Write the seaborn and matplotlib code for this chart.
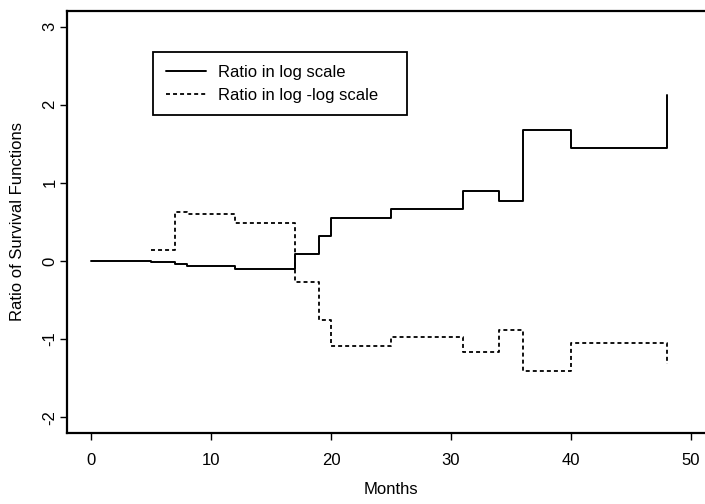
import seaborn as sns
import matplotlib
matplotlib.use('Agg')
import matplotlib.pyplot as plt
import pandas as pd

# Step points (month, ratio)
log_months = [0, 5, 7, 8, 12, 17, 19, 20, 25, 31, 34, 36, 40, 48]
log_ratio = [0.0, -0.01, -0.04, -0.07, -0.10, 0.09, 0.32, 0.545, 0.67,
             0.90, 0.77, 1.67, 1.44, 2.13]

loglog_months = [5, 7, 8, 12, 17, 19, 20, 25, 31, 34, 36, 40, 48]
loglog_ratio = [0.14, 0.63, 0.60, 0.485, -0.27, -0.76, -1.09, -0.98,
                -1.17, -0.885, -1.41, -1.05, -1.32]

x_ticks = [0, 10, 20, 30, 40, 50]
y_ticks = [-2, -1, 0, 1, 2, 3]


def main(figname):
    sns.set_style('ticks')
    plt.rcParams['font.family'] = ['Liberation Sans', 'DejaVu Sans']
    plt.rcParams['font.size'] = 12
    plt.rcParams['axes.unicode_minus'] = False
    plt.rcParams['text.color'] = 'black'
    plt.rcParams['axes.labelcolor'] = 'black'
    plt.rcParams['xtick.color'] = 'black'
    plt.rcParams['ytick.color'] = 'black'

    df_log = pd.DataFrame({'month': log_months, 'ratio': log_ratio})
    df_loglog = pd.DataFrame({'month': loglog_months, 'ratio': loglog_ratio})

    fig = plt.figure(figsize=(7.05, 5.04), dpi=100)
    ax = fig.add_axes([67 / 705, 71.3 / 504, 638 / 705, 421.7 / 504])

    sns.lineplot(data=df_log, x='month', y='ratio', ax=ax,
                 drawstyle='steps-post', color='black', linewidth=1.4,
                 label='Ratio in log scale')
    sns.lineplot(data=df_loglog, x='month', y='ratio', ax=ax,
                 drawstyle='steps-post', color='black', linewidth=1.3,
                 linestyle=(0, (2.2, 1.7)),
                 label='Ratio in log -log scale')

    ax.set_xlim(-2, 51.17)
    ax.set_ylim(-2.2, 3.2)
    ax.set_xticks(x_ticks)
    ax.set_yticks(y_ticks)

    for side in ['left', 'bottom', 'top']:
        ax.spines[side].set_linewidth(1.6)
        ax.spines[side].set_color('black')
    ax.spines['right'].set_visible(False)

    ax.tick_params(axis='x', length=5, width=1, pad=9.5, color='black',
                   labelsize=12, labelcolor='black')
    ax.tick_params(axis='y', length=5, width=1, pad=2, color='black',
                   labelsize=12, labelrotation=90, labelcolor='black')
    for lab in ax.get_yticklabels():
        lab.set_va('center')

    ax.set_xlabel('Months', fontsize=12, color='black')
    ax.set_ylabel('Ratio of Survival Functions', fontsize=12, color='black')
    ax.xaxis.set_label_coords(0.508, -0.117)
    ax.yaxis.set_label_coords(-0.066, 0.5)

    leg = ax.legend(loc='upper left',
                    bbox_to_anchor=(153 / 705, 1 - 114 / 504, 254 / 705, 62 / 504),
                    bbox_transform=fig.transFigure, mode='expand',
                    borderaxespad=0, borderpad=0.75, labelspacing=0.49,
                    handlelength=2.45, handletextpad=0.7,
                    fancybox=False, frameon=True, fontsize=12)
    leg.get_frame().set_edgecolor('black')
    leg.get_frame().set_linewidth(1.3)
    leg.get_frame().set_alpha(1)

    plt.savefig(figname, dpi=100)


if __name__ == '__main__':
    main('out.png')
